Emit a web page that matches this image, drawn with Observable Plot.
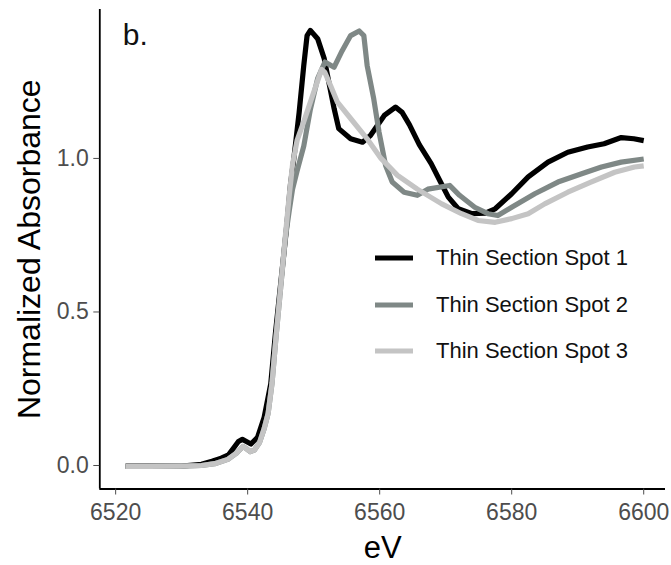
<!DOCTYPE html>
<html><head><meta charset="utf-8">
<script src="https://cdn.jsdelivr.net/npm/d3@7"></script>
<script src="https://cdn.jsdelivr.net/npm/@observablehq/plot@0.6"></script>
<style>
body{margin:0;background:#fff;}
#wrap{position:relative;width:671px;height:565px;font-family:"Liberation Sans",Arial,sans-serif;}
.row{position:absolute;left:375px;height:30px;display:flex;align-items:center;white-space:nowrap;}
.row svg{display:block}
.row span{font-size:22px;color:#111;margin-left:23px;}
</style></head><body><div id="wrap"></div>
<script>
const seriesNames = ["Thin Section Spot 1", "Thin Section Spot 2", "Thin Section Spot 3"];
const seriesColors = ["#000000", "#7f8886", "#c4c4c4"];

const spot1E = [6521.5,6525,6530,6533,6534.6,6536,6537.1,6537.9,6538.6,6539.2,6539.8,6540.5,6541.5,6542.5,6543.5,6544.2,6545,6545.8,6546.5,6547,6547.8,6548.5,6549,6549.5,6550.6,6551.6,6552.3,6553.1,6553.8,6555.6,6557.4,6558.6,6560.7,6562.4,6563.4,6564.5,6566,6567.8,6569.1,6570.4,6571.9,6574,6576,6577.5,6580,6582.5,6585.5,6588.5,6591.5,6594,6596.6,6598.5,6600];
const spot1A = [-0.002,-0.002,-0.002,0.004,0.014,0.024,0.035,0.058,0.078,0.085,0.078,0.07,0.092,0.157,0.266,0.429,0.592,0.755,0.918,1.0,1.15,1.303,1.4,1.417,1.39,1.325,1.248,1.162,1.097,1.064,1.053,1.075,1.14,1.167,1.15,1.11,1.045,0.983,0.928,0.874,0.836,0.82,0.822,0.836,0.885,0.94,0.988,1.02,1.037,1.048,1.068,1.064,1.058];

const spot2E = [6521.5,6525,6530,6533,6535,6537,6538.3,6539.3,6539.8,6540.4,6541,6541.8,6542.5,6543.1,6543.7,6544.3,6545,6545.7,6546.3,6546.8,6547.5,6548.5,6549.5,6550.6,6551.7,6553.1,6554.3,6555.6,6556.9,6557.6,6558.1,6559.1,6559.9,6560.9,6561.9,6563.7,6565.7,6567.3,6570.6,6572.1,6574.4,6576.4,6577.9,6580,6583.5,6587,6590.6,6593.6,6596.6,6600];
const spot2A = [-0.003,-0.003,-0.002,0.0,0.006,0.02,0.04,0.062,0.055,0.045,0.05,0.075,0.12,0.17,0.27,0.42,0.58,0.74,0.83,0.9,0.96,1.04,1.16,1.26,1.314,1.297,1.35,1.4,1.415,1.4,1.303,1.194,1.086,0.977,0.923,0.89,0.88,0.9,0.912,0.88,0.841,0.82,0.814,0.841,0.885,0.923,0.95,0.972,0.988,0.998];

const spot3E = [6521.5,6525,6530,6533,6535,6537,6538.3,6539.3,6539.8,6540.4,6541,6541.8,6542.5,6543.1,6543.7,6544.3,6545,6545.7,6546.3,6546.8,6547.5,6548.5,6550,6551.2,6551.7,6552.6,6553.6,6555.6,6558.1,6560.2,6562.7,6565.7,6569.4,6572.4,6574.9,6577.5,6580,6582.5,6585,6588.5,6592,6595.6,6598.6,6600];
const spot3A = [-0.003,-0.003,-0.002,0.0,0.006,0.02,0.04,0.062,0.055,0.045,0.05,0.075,0.12,0.17,0.27,0.42,0.58,0.745,0.88,0.98,1.06,1.12,1.215,1.29,1.28,1.235,1.183,1.13,1.064,1.0,0.945,0.9,0.852,0.82,0.798,0.792,0.804,0.82,0.852,0.89,0.923,0.955,0.972,0.976];

const xTicks = [6520, 6540, 6560, 6580, 6600];
const yTicks = [0, 0.5, 1.0];
const xDomain = [6517.6, 6603.3];
const yDomain = [-0.0765, 1.485];

const rows = [];
[[spot1E, spot1A], [spot2E, spot2A], [spot3E, spot3A]].forEach(([E, A], i) => {
  E.forEach((e, j) => rows.push({eV: e, abs: A[j], series: seriesNames[i]}));
});

const chart = Plot.plot({
  width: 671,
  height: 565,
  marginLeft: 99.3,
  marginRight: 6,
  marginTop: 9,
  marginBottom: 76.5,
  style: {fontFamily: '"Liberation Sans", Arial, sans-serif', background: "#fff"},
  x: {domain: xDomain},
  y: {domain: yDomain},
  color: {domain: seriesNames, range: seriesColors},
  marks: [
    Plot.line(rows, {x: "eV", y: "abs", z: "series", stroke: "series", strokeWidth: 5.2, strokeLinejoin: "round", strokeLinecap: "butt"}),
    Plot.ruleX([xDomain[0]], {stroke: "#000", strokeWidth: 1.8}),
    Plot.ruleY([yDomain[0]], {stroke: "#000", strokeWidth: 1.8}),
    Plot.axisX({ticks: xTicks, tickSize: 6, tickPadding: 9, fontSize: 23, color: "#4d4d4d", tickFormat: d => String(d), label: null}),
    Plot.axisY({ticks: yTicks, tickSize: 6, tickPadding: 5, fontSize: 23, color: "#4d4d4d", tickFormat: d3.format(".1f"), label: null}),
    Plot.text(["Normalized Absorbance"], {text: d => d, frameAnchor: "left", textAnchor: "middle", lineAnchor: "middle", rotate: -90, dx: -70, fontSize: 32, fill: "#000"}),
    Plot.text(["eV"], {text: d => d, frameAnchor: "bottom", textAnchor: "middle", lineAnchor: "middle", dy: 59, fontSize: 31, fill: "#000"}),
    Plot.text(["b."], {text: d => d, frameAnchor: "top-left", textAnchor: "start", lineAnchor: "middle", dx: 23, dy: 26, fontSize: 30, fill: "#111"})
  ]
});

const wrap = document.getElementById("wrap");
wrap.appendChild(chart);

const legendCenters = [258, 305, 351];
seriesNames.forEach((name, i) => {
  const row = document.createElement("div");
  row.className = "row";
  row.style.top = (legendCenters[i] - 15) + "px";
  row.innerHTML = `<svg width="38" height="10"><line x1="0" x2="38" y1="5" y2="5" stroke="${seriesColors[i]}" stroke-width="5"/></svg><span>${name}</span>`;
  wrap.appendChild(row);
});
</script>
</body></html>
